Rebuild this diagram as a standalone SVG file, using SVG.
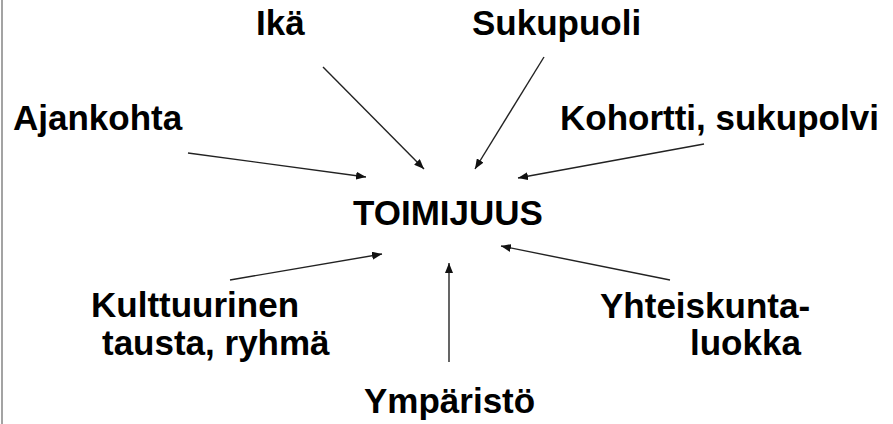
<svg xmlns="http://www.w3.org/2000/svg" width="893" height="424" viewBox="0 0 893 424">
<defs>
<style>
.t{font-family:"Liberation Sans",Arial,sans-serif;font-weight:bold;font-size:35px;fill:#000}
.c{stroke:#222;stroke-width:1.4;fill:none;marker-end:url(#ah)}
</style>
<marker id="ah" viewBox="0 0 10 8" refX="10" refY="4" markerWidth="10" markerHeight="8" markerUnits="userSpaceOnUse" orient="auto">
<path d="M0,0 L10,4 L0,8 Z" fill="#111"/>
</marker>
</defs>
<rect width="893" height="424" fill="#fff"/>
<line x1="2" y1="0" x2="2" y2="424" stroke="#666" stroke-width="1.2"/>
<g id="connectors">
<line class="c" x1="323" y1="67" x2="424" y2="169"/>
<line class="c" x1="544" y1="57" x2="475" y2="169"/>
<line class="c" x1="188" y1="153" x2="366" y2="177"/>
<line class="c" x1="704" y1="144" x2="518" y2="178"/>
<line class="c" x1="230" y1="280" x2="382" y2="254"/>
<line class="c" x1="449" y1="362" x2="449" y2="263" style="stroke:#555;stroke-width:1.8"/>
<line class="c" x1="670" y1="280" x2="501" y2="246"/>
</g>
<g id="ika"><text class="t" x="256" y="35">Ikä</text></g>
<g id="sukupuoli"><text class="t" x="472" y="35">Sukupuoli</text></g>
<g id="ajankohta"><text class="t" x="13" y="130">Ajankohta</text></g>
<g id="kohortti"><text class="t" x="560" y="130">Kohortti, sukupolvi</text></g>
<g id="toimijuus"><text class="t" x="353" y="225">TOIMIJUUS</text></g>
<g id="kulttuurinen"><text class="t" x="91" y="317">Kulttuurinen</text><text class="t" x="102" y="355">tausta, ryhmä</text></g>
<g id="yhteiskunta"><text class="t" x="600" y="318">Yhteiskunta-</text><text class="t" x="690" y="355">luokka</text></g>
<g id="ymparisto"><text class="t" x="364" y="413">Ympäristö</text></g>
</svg>
